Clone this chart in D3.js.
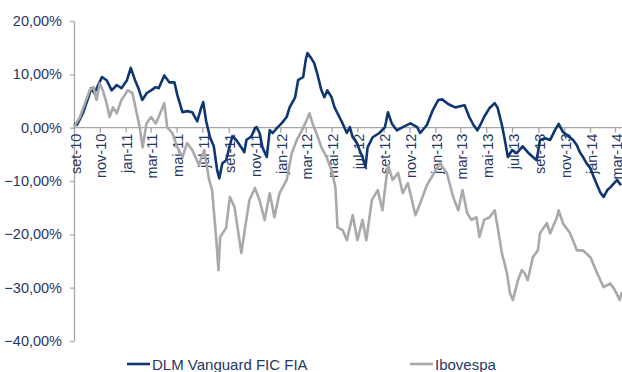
<!DOCTYPE html>
<html>
<head>
<meta charset="utf-8">
<script src="https://cdn.jsdelivr.net/npm/d3@7"></script>
<style>
	body { margin: 0; background: #fff; }
	svg { display: block; font-family: 'Liberation Sans', Arial, sans-serif; }
</style>
</head>
<body>
<div id="chart"></div>
<script>
// series names
const seriesNames = ['DLM Vanguard FIC FIA', 'Ibovespa'];

// DLM Vanguard FIC FIA, accumulated return (%)
const dlm = [
	['2010-09-01', 0.8], ['2010-09-08', 0.5], ['2010-09-15', 1.6], ['2010-09-22', 2.7], ['2010-10-03', 5.2],
	['2010-10-12', 7.4], ['2010-10-19', 6.5], ['2010-10-26', 7.6], ['2010-11-06', 9.5], ['2010-11-17', 8.9],
	['2010-11-29', 7.0], ['2010-12-11', 8.0], ['2010-12-22', 7.4], ['2011-01-04', 8.9], ['2011-01-13', 11.2],
	['2011-01-23', 8.9], ['2011-01-31', 7.4], ['2011-02-09', 5.2], ['2011-02-20', 6.5], ['2011-03-02', 7.0],
	['2011-03-13', 7.6], ['2011-03-20', 7.4], ['2011-04-02', 9.8], ['2011-04-14', 8.5], ['2011-04-26', 8.5],
	['2011-05-03', 6.1], ['2011-05-15', 2.9], ['2011-05-26', 3.1], ['2011-06-07', 2.9], ['2011-06-19', 1.2],
	['2011-06-28', 3.7], ['2011-07-03', 4.8], ['2011-07-10', 1.2], ['2011-07-19', -1.8], ['2011-07-28', -3.5],
	['2011-08-05', -8.0], ['2011-08-10', -9.5], ['2011-08-17', -6.7], ['2011-08-26', -6.1], ['2011-09-04', -3.3],
	['2011-09-10', -1.6], ['2011-09-19', -2.3], ['2011-10-01', -3.7], ['2011-10-08', -4.6], ['2011-10-13', -2.3],
	['2011-10-25', -1.6], ['2011-11-02', -0.1], ['2011-11-06', 0.1], ['2011-11-13', -1.0], ['2011-11-20', -3.7],
	['2011-11-30', -5.5], ['2011-12-07', -0.5], ['2011-12-14', -1.0], ['2011-12-26', 0.1], ['2012-01-04', 0.8],
	['2012-01-16', 2.0], ['2012-01-23', 3.8], ['2012-02-05', 5.7], ['2012-02-12', 8.9], ['2012-02-24', 9.5],
	['2012-03-01', 12.7], ['2012-03-05', 14.0], ['2012-03-14', 13.0], ['2012-03-21', 12.1], ['2012-03-28', 10.2],
	['2012-04-07', 7.0], ['2012-04-14', 5.7], ['2012-04-21', 7.0], ['2012-05-01', 5.7], ['2012-05-08', 3.8],
	['2012-05-15', 2.7], ['2012-05-27', 0.8], ['2012-06-06', -1.0], ['2012-06-13', 0.1], ['2012-06-20', -1.8],
	['2012-06-30', -2.9], ['2012-07-06', -4.2], ['2012-07-13', -5.5], ['2012-07-20', -7.4], ['2012-07-25', -3.7],
	['2012-08-06', -1.8], ['2012-08-22', -1.0], ['2012-09-04', 0.1], ['2012-09-11', 2.9], ['2012-09-20', 0.8],
	['2012-10-02', -0.5], ['2012-10-16', 0.1], ['2012-11-03', 0.8], ['2012-11-19', 0.1], ['2012-11-26', -1.0],
	['2012-12-12', 0.5], ['2012-12-26', 3.3], ['2013-01-08', 5.2], ['2013-01-17', 5.3], ['2013-02-01', 4.4],
	['2013-02-17', 3.8], ['2013-02-28', 4.0], ['2013-03-11', 4.2], ['2013-03-22', 2.0], ['2013-04-01', 0.5],
	['2013-04-10', -0.5], ['2013-04-17', 0.5], ['2013-04-26', 2.0], ['2013-05-09', 3.7], ['2013-05-21', 4.6],
	['2013-05-28', 3.7], ['2013-06-07', 0.5], ['2013-06-14', -2.3], ['2013-06-21', -5.5], ['2013-07-01', -4.2],
	['2013-07-12', -4.8], ['2013-07-26', -3.5], ['2013-08-07', -4.6], ['2013-08-19', -5.5], ['2013-08-28', -6.1],
	['2013-09-05', -2.3], ['2013-09-17', -2.0], ['2013-09-29', -2.3], ['2013-10-10', -0.5], ['2013-10-19', 0.7],
	['2013-10-29', -0.8], ['2013-11-08', -1.4], ['2013-11-22', -2.3], ['2013-12-01', -3.3], ['2013-12-08', -4.6],
	['2013-12-17', -5.7], ['2013-12-24', -6.7], ['2014-01-02', -7.6], ['2014-01-11', -9.5], ['2014-01-18', -10.8],
	['2014-01-25', -12.1], ['2014-02-02', -13.0], ['2014-02-11', -11.7], ['2014-02-18', -11.2], ['2014-02-27', -10.4],
	['2014-03-06', -9.8], ['2014-03-15', -10.8]
];

// Ibovespa, accumulated return (%)
const ibov = [
	['2010-09-01', 0.1], ['2010-09-15', 2.0], ['2010-09-27', 4.6], ['2010-10-08', 7.0], ['2010-10-17', 7.6],
	['2010-10-24', 5.2], ['2010-11-01', 8.3], ['2010-11-08', 7.0], ['2010-11-17', 4.6], ['2010-11-24', 2.0],
	['2010-12-02', 3.8], ['2010-12-11', 2.7], ['2010-12-22', 5.2], ['2011-01-06', 7.0], ['2011-01-17', 6.5],
	['2011-01-27', 2.7], ['2011-02-03', 0.1], ['2011-02-10', -3.7], ['2011-02-19', 0.8], ['2011-03-02', 2.0],
	['2011-03-13', 0.8], ['2011-03-20', 2.0], ['2011-04-02', 4.6], ['2011-04-09', 0.1], ['2011-04-21', -1.0],
	['2011-05-03', -3.7], ['2011-05-15', -5.5], ['2011-05-26', -2.9], ['2011-06-07', -4.2], ['2011-06-23', -7.0],
	['2011-07-05', -4.2], ['2011-07-17', -9.8], ['2011-07-24', -11.7], ['2011-08-03', -21.1], ['2011-08-08', -26.7],
	['2011-08-12', -20.5], ['2011-08-26', -18.8], ['2011-09-04', -13.0], ['2011-09-15', -14.9], ['2011-09-22', -18.7],
	['2011-10-01', -23.5], ['2011-10-10', -18.7], ['2011-10-20', -13.6], ['2011-11-02', -11.3], ['2011-11-13', -13.6],
	['2011-11-25', -17.3], ['2011-12-07', -12.3], ['2011-12-18', -16.8], ['2011-12-30', -12.3], ['2012-01-16', -9.8],
	['2012-01-28', -4.8], ['2012-02-09', -2.3], ['2012-02-21', -0.5], ['2012-03-03', 1.4], ['2012-03-10', 2.7],
	['2012-03-17', 0.8], ['2012-03-26', -1.0], ['2012-04-07', -3.7], ['2012-04-19', -5.5], ['2012-05-01', -8.0],
	['2012-05-10', -11.2], ['2012-05-15', -18.7], ['2012-05-27', -19.2], ['2012-06-06', -21.1], ['2012-06-20', -16.4],
	['2012-07-01', -21.1], ['2012-07-13', -17.3], ['2012-07-22', -21.1], ['2012-08-04', -13.6], ['2012-08-18', -11.7],
	['2012-08-29', -15.5], ['2012-09-11', -7.0], ['2012-09-22', -9.8], ['2012-10-05', -8.5], ['2012-10-16', -12.3],
	['2012-10-28', -10.4], ['2012-11-15', -16.4], ['2012-11-26', -14.2], ['2012-12-12', -10.8], ['2012-12-26', -8.9],
	['2013-01-12', -6.7], ['2013-01-28', -8.5], ['2013-02-12', -13.0], ['2013-02-24', -15.5], ['2013-03-06', -11.7],
	['2013-03-17', -16.0], ['2013-03-27', -17.3], ['2013-04-08', -16.8], ['2013-04-15', -20.5], ['2013-04-26', -17.3],
	['2013-05-09', -16.8], ['2013-05-21', -15.5], ['2013-05-28', -18.7], ['2013-06-07', -23.5], ['2013-06-19', -27.3],
	['2013-06-26', -31.0], ['2013-07-03', -32.3], ['2013-07-15', -28.6], ['2013-07-24', -26.7], ['2013-07-31', -27.3],
	['2013-08-07', -28.6], ['2013-08-19', -24.3], ['2013-08-31', -23.0], ['2013-09-05', -19.8], ['2013-09-21', -17.9],
	['2013-09-29', -19.8], ['2013-10-15', -16.8], ['2013-10-19', -15.5], ['2013-10-29', -17.9], ['2013-11-15', -19.8],
	['2013-12-01', -23.0], ['2013-12-15', -23.0], ['2014-01-02', -24.3], ['2014-01-18', -27.3], ['2014-02-02', -29.9],
	['2014-02-18', -29.2], ['2014-03-01', -30.5], ['2014-03-12', -32.3], ['2014-03-17', -30.9]
];

// x tick labels, every two months
const tickLabels = ['set-10', 'nov-10', 'jan-11', 'mar-11', 'mai-11', 'jul-11', 'set-11', 'nov-11',
	'jan-12', 'mar-12', 'mai-12', 'jul-12', 'set-12', 'nov-12', 'jan-13', 'mar-13', 'mai-13',
	'jul-13', 'set-13', 'nov-13', 'jan-14', 'mar-14'];
const tickDates = ['2010-09-01', '2010-11-01', '2011-01-01', '2011-03-01', '2011-05-01', '2011-07-01',
	'2011-09-01', '2011-11-01', '2012-01-01', '2012-03-01', '2012-05-01', '2012-07-01', '2012-09-01',
	'2012-11-01', '2013-01-01', '2013-03-01', '2013-05-01', '2013-07-01', '2013-09-01', '2013-11-01',
	'2014-01-01', '2014-03-01'];
const yTicks = [20, 10, 0, -10, -20, -30, -40];

const width = 622;
const height = 372;
const textColor = '#1f3864';
const axisColor = '#a6a6a6';
const colors = ['#0e3670', '#a9a9ab'];

const parse = d3.timeParse('%Y-%m-%d');

const x = d3.scaleTime()
	.domain([parse('2010-09-01'), parse('2014-03-01')])
	.range([74, 615]);

const y = d3.scaleLinear()
	.domain([-40, 20])
	.range([341, 21]);

const svg = d3.select('#chart').append('svg')
	.attr('width', width)
	.attr('height', height);

// y axis
const fmt = v => d3.format('.2f')(v).replace('.', ',') + '%';
const yAxis = svg.append('g')
	.attr('transform', 'translate(74,0)')
	.call(d3.axisLeft(y).tickValues(yTicks).tickFormat(fmt).tickSize(4).tickSizeOuter(0));
yAxis.select('.domain').attr('stroke', axisColor).attr('stroke-width', 1.3);
yAxis.selectAll('.tick line').attr('stroke', axisColor).attr('stroke-width', 1.3);
yAxis.selectAll('.tick text')
	.attr('x', -12)
	.style('font-size', '14.5px')
	.style('fill', textColor);

// x axis on the zero line
const xAxis = svg.append('g')
	.attr('transform', `translate(0,${y(0)})`)
	.call(d3.axisBottom(x)
		.tickValues(tickDates.map(parse))
		.tickFormat((d, i) => tickLabels[i])
		.tickSize(5)
		.tickSizeOuter(0));
xAxis.select('.domain').remove();
xAxis.append('line')
	.attr('x1', 74).attr('x2', 622)
	.attr('stroke', axisColor).attr('stroke-width', 1.3);
xAxis.selectAll('.tick line').attr('stroke', axisColor).attr('stroke-width', 1.3);
xAxis.selectAll('.tick text')
	.attr('transform', 'rotate(-90)')
	.attr('text-anchor', 'end')
	.attr('x', -6)
	.attr('y', 1)
	.attr('dy', '0.35em')
	.style('font-size', '14.5px')
	.style('fill', textColor);

const line = d3.line()
	.x(d => x(parse(d[0])))
	.y(d => y(d[1]));

// series
[dlm, ibov].forEach((data, i) => {
	svg.append('path')
		.datum(data)
		.attr('d', line)
		.attr('fill', 'none')
		.attr('stroke', colors[i])
		.attr('stroke-width', 2.6)
		.attr('stroke-linejoin', 'round');
});

// legend
const legendX = [127, 410];
const legend = svg.selectAll('.legend')
	.data(seriesNames)
	.enter().append('g')
	.attr('class', 'legend')
	.attr('transform', (d, i) => `translate(${legendX[i]},364)`);

legend.append('line')
	.attr('x1', 0).attr('x2', 23)
	.attr('stroke', (d, i) => colors[i])
	.attr('stroke-width', 2.6);

legend.append('text')
	.attr('x', 25)
	.attr('y', 6)
	.style('font-size', '15px')
	.style('fill', textColor)
	.text(d => d);
</script>
</body>
</html>
